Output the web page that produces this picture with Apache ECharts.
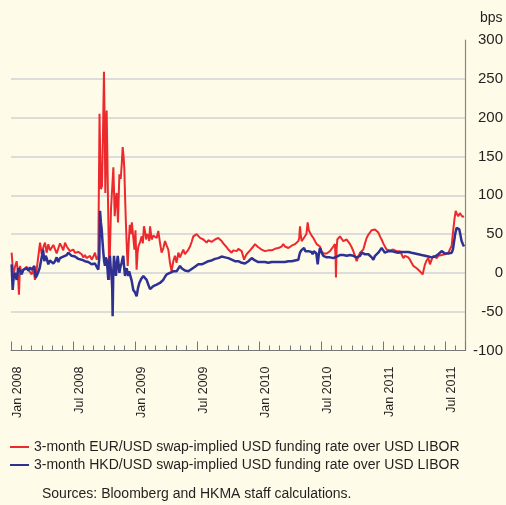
<!DOCTYPE html>
<html>
<head>
<meta charset="utf-8">
<script src="https://cdn.jsdelivr.net/npm/echarts@6/dist/echarts.min.js"></script>
<style>
html,body{margin:0;padding:0;background:#fefbe8;}
#chart{width:506px;height:505px;}
</style>
</head>
<body>
<div id="chart"></div>
<script>
// x positions: months since Jan 2008 (0 = Jan 2008)
const xTickLabels = ['Jan 2008','Jul 2008','Jan 2009','Jul 2009','Jan 2010','Jul 2010','Jan 2011','Jul 2011'];
const seriesNames = ['3-month EUR/USD swap-implied USD funding rate over USD LIBOR','3-month HKD/USD swap-implied USD funding rate over USD LIBOR'];

const eurT = [0.06,0.23,0.39,0.55,0.66,0.77,0.87,1.03,1.19,1.35,1.52,1.68,1.84,2.0,2.16,2.32,2.48,2.65,2.81,2.97,3.13,3.29,3.45,3.61,3.77,3.94,4.1,4.26,4.42,4.58,4.74,4.9,5.06,5.23,5.39,5.55,5.71,5.87,6.03,6.19,6.35,6.52,6.68,6.84,7.0,7.16,7.32,7.48,7.65,7.81,7.97,8.13,8.3,8.45,8.52,8.57,8.64,8.70,8.81,8.9,9.0,9.08,9.13,9.2,9.26,9.33,9.39,9.46,9.52,9.6,9.68,9.8,9.91,10.04,10.14,10.23,10.36,10.49,10.62,10.72,10.81,10.9,10.97,11.05,11.13,11.22,11.3,11.4,11.5,11.6,11.7,11.82,11.95,12.05,12.16,12.25,12.33,12.5,12.65,12.76,12.87,12.97,13.07,13.18,13.29,13.38,13.46,13.62,13.78,13.94,14.1,14.26,14.42,14.58,14.75,14.91,15.07,15.23,15.39,15.55,15.71,15.87,16.03,16.2,16.36,16.52,16.68,16.84,17.0,17.17,17.33,17.49,17.65,17.81,17.97,18.13,18.3,18.46,18.62,18.78,18.94,19.1,19.26,19.42,19.59,19.75,19.91,20.07,20.23,20.39,20.55,20.71,20.88,21.04,21.2,21.36,21.52,21.68,21.85,22.01,22.17,22.33,22.49,22.57,22.65,22.81,22.98,23.14,23.3,23.46,23.62,23.78,23.94,24.1,24.27,24.43,24.59,24.75,24.91,25.07,25.24,25.4,25.56,25.72,25.88,26.04,26.2,26.36,26.52,26.69,26.85,27.01,27.17,27.33,27.49,27.65,27.82,27.9,27.98,28.06,28.14,28.3,28.46,28.6,28.72,28.83,28.94,29.1,29.27,29.43,29.59,29.75,29.91,30.07,30.24,30.4,30.56,30.72,30.88,31.04,31.2,31.36,31.42,31.46,31.52,31.59,31.72,31.85,32.01,32.17,32.33,32.5,32.66,32.82,32.98,33.14,33.3,33.46,33.63,33.79,33.95,34.11,34.27,34.43,34.59,34.75,34.92,35.08,35.24,35.4,35.56,35.72,35.88,36.04,36.2,36.36,36.53,36.69,36.85,37.01,37.17,37.33,37.49,37.66,37.82,37.98,38.14,38.3,38.46,38.62,38.78,38.95,39.11,39.27,39.43,39.59,39.72,39.85,39.97,40.08,40.24,40.4,40.56,40.72,40.89,41.05,41.21,41.37,41.53,41.69,41.85,42.01,42.18,42.34,42.5,42.66,42.82,42.94,43.05,43.17,43.3,43.45,43.6,43.72,43.85];
const eurV = [26,-4,8,15,2,-28,9,0,4,6,8,4,5,-2,6,-9,4,6,39,24,33,39,26,37,29,30,36,34,25,24,38,34,29,39,34,32,28,26,30,26,24,27,26,24,20,23,19,21,22,17,21,26,17,22,20,205,150,108,112,175,259,180,103,160,209,150,95,40,-9,40,82,110,136,73,95,103,65,127,121,140,162,150,134,95,62,30,9,40,62,50,65,48,30,55,4,25,34,40,47,38,60,54,43,50,47,41,60,43,48,50,45,54,39,26,32,41,35,30,13,2,15,22,13,26,20,22,30,24,26,30,34,40,47,45,50,48,45,46,43,44,39,42,41,40,42,43,44,45,43,41,38,37,33,30,28,26,29,30,28,31,30,28,26,17,20,24,26,29,31,34,37,35,33,32,30,29,28,28,29,27,29,30,31,30,32,32,34,37,34,33,32,34,35,36,37,36,41,45,60,48,41,44,45,50,65,55,52,48,45,43,37,39,34,28,25,24,25,26,28,30,34,37,20,-6,30,43,45,47,44,41,42,43,40,37,33,28,22,15,21,26,28,30,38,45,49,52,55,54,56,54,52,47,43,38,34,30,28,29,31,30,30,28,27,28,24,19,22,24,20,17,13,9,8,6,4,2,0,-2,5,11,16,19,11,17,22,20,19,22,24,23,25,24,24,26,28,35,56,70,80,76,73,77,75,72,73];

const hkdT = [0.06,0.16,0.27,0.39,0.55,0.71,0.87,1.03,1.19,1.35,1.52,1.68,1.84,2.0,2.13,2.26,2.39,2.52,2.65,2.77,2.9,3.03,3.1,3.23,3.35,3.45,3.61,3.77,3.94,4.1,4.26,4.42,4.58,4.74,4.9,5.06,5.23,5.39,5.55,5.71,5.87,6.03,6.19,6.35,6.52,6.68,6.84,7.0,7.16,7.32,7.48,7.65,7.81,7.97,8.13,8.3,8.45,8.55,8.62,8.7,8.78,8.86,8.94,9.02,9.1,9.18,9.26,9.34,9.42,9.5,9.58,9.66,9.74,9.8,9.84,9.9,9.97,10.06,10.16,10.24,10.33,10.41,10.49,10.6,10.71,10.79,10.87,10.95,11.04,11.12,11.2,11.28,11.36,11.44,11.52,11.68,11.84,12.0,12.16,12.29,12.42,12.6,12.81,12.97,13.13,13.29,13.46,13.62,13.78,13.94,14.1,14.26,14.42,14.58,14.74,14.91,15.07,15.23,15.39,15.55,15.71,15.87,16.03,16.2,16.36,16.52,16.68,16.84,17.0,17.17,17.33,17.49,17.65,17.81,17.97,18.13,18.3,18.46,18.62,18.78,18.94,19.1,19.26,19.42,19.59,19.75,19.91,20.07,20.23,20.39,20.56,20.72,20.88,21.04,21.2,21.36,21.52,21.68,21.85,22.01,22.17,22.33,22.49,22.65,22.81,22.98,23.14,23.3,23.46,23.62,23.78,23.94,24.1,24.27,24.43,24.59,24.75,24.91,25.07,25.24,25.4,25.56,25.72,25.88,26.04,26.2,26.36,26.52,26.69,26.85,27.01,27.17,27.33,27.49,27.65,27.82,27.9,27.98,28.1,28.22,28.37,28.5,28.63,28.79,28.95,29.08,29.2,29.32,29.43,29.56,29.69,29.8,29.91,30.07,30.24,30.4,30.56,30.72,30.88,31.04,31.2,31.37,31.53,31.69,31.85,32.01,32.17,32.33,32.5,32.66,32.82,32.98,33.14,33.3,33.46,33.63,33.79,33.95,34.11,34.27,34.43,34.6,34.76,34.92,35.08,35.24,35.4,35.56,35.72,35.88,36.04,36.2,36.36,36.53,36.69,36.85,37.01,37.17,37.33,37.49,37.66,37.82,37.98,38.14,38.3,38.46,38.62,38.78,38.95,39.11,39.27,39.43,39.59,39.75,39.91,40.08,40.24,40.4,40.56,40.72,40.89,41.05,41.21,41.37,41.53,41.69,41.85,42.01,42.17,42.34,42.5,42.66,42.78,42.88,43.0,43.14,43.27,43.4,43.52,43.62,43.75,43.85];
const hkdV = [11,-22,-5,0,-9,6,3,-2,4,5,6,3,7,4,2,9,-6,-3,-2,6,15,24,30,15,22,19,11,16,17,12,15,20,14,19,18,21,22,23,26,24,22,20,21,19,18,17,17,16,15,15,14,13,11,13,12,10,4,20,80,65,56,40,26,15,9,20,17,5,-9,10,22,5,-4,-20,-56,0,22,8,-4,10,22,12,0,8,13,18,22,8,-4,3,6,0,-4,2,0,-10,-22,-25,-30,-20,-13,-8,-4,-6,-9,-15,-21,-19,-17,-16,-15,-15,-13,-11,-9,-5,-2,-2,0,2,2,3,2,4,9,6,4,3,2,2,4,5,6,8,10,11,10,11,11,13,14,15,15,16,17,18,18,19,20,21,22,20,19,19,18,17,16,15,17,15,14,13,13,12,14,15,17,19,17,16,15,14,15,14,15,14,14,13,13,14,15,14,15,14,13,14,13,14,14,15,14,15,15,16,16,17,22,26,29,30,32,28,26,28,30,27,24,28,30,25,11,24,32,26,22,21,20,19,20,20,19,19,21,22,23,24,23,22,22,22,23,22,22,22,20,19,22,26,25,24,24,24,23,20,17,22,24,26,29,32,29,26,27,28,27,28,27,27,26,26,28,27,28,27,28,27,27,26,26,25,25,24,24,23,23,22,22,21,20,20,19,21,22,24,26,28,26,25,24,25,25,26,30,39,50,58,57,56,48,41,37,34];

const zip = (t, v) => t.map((x, i) => [x, v[i]]);
const FONT = '"Liberation Sans", Arial, Helvetica, sans-serif';
const TXT = '#231f20';

const chart = echarts.init(document.getElementById('chart'), null, {renderer: 'canvas'});
chart.setOption({
  animation: false,
  backgroundColor: '#fefbe8',
  textStyle: {fontFamily: FONT},
  title: {
    text: 'Sources: Bloomberg and HKMA staff calculations.',
    left: 42, top: 487, padding: 0,
    textStyle: {fontSize: 14, fontWeight: 'normal', color: TXT, fontFamily: FONT}
  },
  graphic: [{
    type: 'text', left: 480, top: 11,
    style: {text: 'bps', fontSize: 14, fill: TXT, fontFamily: FONT}
  }],
  legend: {
    orient: 'vertical', left: 10, top: 438, padding: 0,
    itemWidth: 19, itemHeight: 2, itemGap: 0, icon: 'rect',
    textStyle: {fontSize: 14, lineHeight: 18, color: TXT, fontFamily: FONT},
    data: seriesNames
  },
  grid: {left: 11, right: 40.5, top: 40, bottom: 154.5, containLabel: false, outerBoundsMode: 'none'},
  xAxis: [{
    type: 'value', min: 0, max: 44, interval: 1, position: 'bottom',
    axisLine: {show: true, onZero: false, lineStyle: {color: '#777', width: 1}},
    axisTick: {show: true, inside: true, length: 5, lineStyle: {color: '#777', width: 1}},
    splitLine: {show: false},
    axisLabel: {
      rotate: 90, margin: 16, fontSize: 12.5, color: TXT, fontFamily: FONT,
      verticalAlign: 'top',
      formatter: v => (Math.abs(v % 6) < 1e-6 && v / 6 < xTickLabels.length) ? xTickLabels[Math.round(v / 6)] : ''
    }
  }, {
    type: 'value', min: 0, max: 44, interval: 6, position: 'bottom',
    axisLine: {show: false, onZero: false},
    axisTick: {show: true, inside: true, length: 9, lineStyle: {color: '#777', width: 1}},
    splitLine: {show: false},
    axisLabel: {show: false}
  }],
  yAxis: {
    type: 'value', position: 'right', min: -100, max: 300, interval: 50,
    axisLine: {show: true, onZero: false, lineStyle: {color: '#888', width: 1.2}},
    axisTick: {show: false},
    axisLabel: {margin: 37.5, align: 'right', fontSize: 15, color: TXT, fontFamily: FONT},
    splitLine: {show: true, showMaxLine: false, showMinLine: false, lineStyle: {color: '#dcdcdc', width: 2}}
  },
  series: [{
    name: seriesNames[0], type: 'line', xAxisIndex: 0, showSymbol: false, symbol: 'none',
    data: zip(eurT, eurV), color: '#ec2a2e',
    lineStyle: {width: 2, color: '#ec2a2e'}
  }, {
    name: seriesNames[1], type: 'line', xAxisIndex: 0, showSymbol: false, symbol: 'none',
    data: zip(hkdT, hkdV), color: '#2e3192',
    lineStyle: {width: 2.5, color: '#2e3192'}
  }]
});
</script>
</body>
</html>
